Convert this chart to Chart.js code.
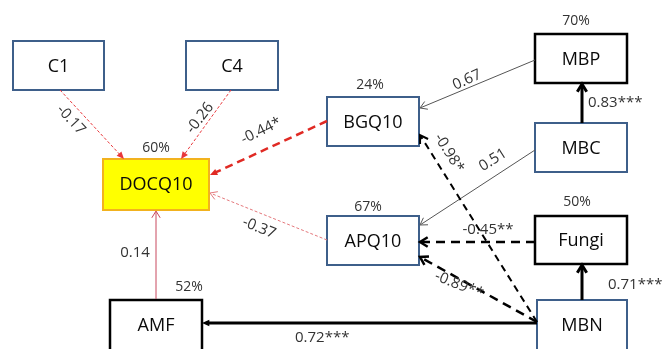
<!DOCTYPE html>
<html>
<head>
<meta charset="utf-8">
<script src="https://cdn.jsdelivr.net/npm/chart.js@4/dist/chart.umd.min.js"></script>
<style>
  html, body { margin: 0; padding: 0; background: #ffffff; }
  #wrap { width: 664px; height: 349px; position: relative; }
</style>
</head>
<body>
<div id="wrap"><canvas id="c"></canvas></div>
<script>
// Path model: variables, explained variance (R², %) and standardized path coefficients
const nodeNames   = ['C1', 'C4', 'DOCQ10', 'BGQ10', 'APQ10', 'AMF', 'MBP', 'MBC', 'Fungi', 'MBN'];
const explainedR2 = [null, null, 60, 24, 67, 52, 70, null, 50, null];

const pathFrom = ['C1', 'C4', 'BGQ10', 'APQ10', 'AMF', 'MBP', 'MBC', 'MBC', 'MBN', 'Fungi', 'MBN', 'MBN', 'MBN'];
const pathTo   = ['DOCQ10', 'DOCQ10', 'DOCQ10', 'DOCQ10', 'DOCQ10', 'BGQ10', 'MBP', 'APQ10', 'BGQ10', 'APQ10', 'APQ10', 'AMF', 'Fungi'];
const pathCoef = [-0.17, -0.26, -0.44, -0.37, 0.14, 0.67, 0.83, 0.51, -0.98, -0.45, -0.89, 0.72, 0.71];
const pathSig  = ['', '', '*', '', '', '', '***', '', '*', '**', '**', '***', '***'];

// ---- drawing layout (axis units: x 0..664, y 0..349 from top) ----
const boxLayout = {
  C1:     { x: 13,  y: 41,  w: 91,  h: 49, kind: 'blue' },
  C4:     { x: 186, y: 41,  w: 92,  h: 49, kind: 'blue' },
  DOCQ10: { x: 103, y: 159, w: 106, h: 51, kind: 'yellow' },
  BGQ10:  { x: 327, y: 97,  w: 92,  h: 49, kind: 'blue' },
  APQ10:  { x: 327, y: 216, w: 92,  h: 49, kind: 'blue' },
  AMF:    { x: 110, y: 300, w: 92,  h: 52, kind: 'black' },
  MBP:    { x: 535, y: 34,  w: 92,  h: 49, kind: 'black' },
  MBC:    { x: 535, y: 123, w: 92,  h: 49, kind: 'blue' },
  Fungi:  { x: 535, y: 216, w: 92,  h: 48, kind: 'black' },
  MBN:    { x: 537, y: 300, w: 90,  h: 52, kind: 'blue' }
};
// where each R² label sits
const r2Pos = {
  DOCQ10: [156, 148], BGQ10: [370, 85], APQ10: [368, 207], AMF: [189, 287],
  MBP: [576, 21], Fungi: [577, 202]
};
// per path: start, end, line style, head style, label position/rotation/alignment
const pathGeom = [
  { a: [60, 90],   b: [124, 159], st: 'redDot',    head: 'fill', lp: [71, 120],  rot: 47,  al: 'center' },
  { a: [231, 90],  b: [181, 159], st: 'redDot',    head: 'fill', lp: [200, 118], rot: -52, al: 'center' },
  { a: [327, 121], b: [210, 175], st: 'redDash',   head: 'fill', lp: [261, 131], rot: -26, al: 'center' },
  { a: [327, 240], b: [210, 193], st: 'pinkDot',   head: 'open', lp: [259, 228], rot: 22,  al: 'center' },
  { a: [156, 299], b: [156, 211], st: 'redSolid',  head: 'open', lp: [135, 253], rot: 0,   al: 'center' },
  { a: [535, 60],  b: [420, 108], st: 'greySolid', head: 'open', lp: [467, 80],  rot: -24, al: 'center' },
  { a: [582, 123], b: [582, 84],  st: 'blackBold', head: 'open', lp: [588, 103], rot: 0,   al: 'left' },
  { a: [535, 150], b: [420, 225], st: 'greySolid', head: 'open', lp: [493, 160], rot: -32, al: 'center' },
  { a: [537, 322], b: [420, 135], st: 'blackDash', head: 'open', lp: [449, 153], rot: 58,  al: 'center' },
  { a: [535, 242], b: [420, 242], st: 'blackDash2',head: 'open', lp: [488, 230], rot: 0,   al: 'center' },
  { a: [537, 322], b: [420, 257], st: 'blackDash2',head: 'open', lp: [459, 285], rot: 22,  al: 'center' },
  { a: [537, 323], b: [202, 323], st: 'blackBold', head: 'fill', lp: [295, 338], rot: 0,   al: 'left' },
  { a: [582, 300], b: [582, 265], st: 'blackBold', head: 'open', lp: [608, 285], rot: 0,   al: 'left' }
];
const lineStyles = {
  redDot:     { color: '#e8383c', width: 1,   dash: [3, 2] },
  pinkDot:    { color: '#e4787c', width: 1,   dash: [3, 2] },
  redDash:    { color: '#e02a24', width: 2.5, dash: [8, 5] },
  redSolid:   { color: '#c8485e', width: 1,   dash: [] },
  greySolid:  { color: '#555555', width: 1,   dash: [] },
  blackBold:  { color: '#000000', width: 3,   dash: [] },
  blackDash:  { color: '#000000', width: 2,   dash: [7, 5] },
  blackDash2: { color: '#000000', width: 2.5, dash: [9, 6] }
};
const boxStyles = {
  blue:   { stroke: '#3e5f8a', fill: '#ffffff', width: 2 },
  black:  { stroke: '#000000', fill: '#ffffff', width: 2.5 },
  yellow: { stroke: '#f2b21e', fill: '#ffff00', width: 2 }
};
const FONT = '"Open Sans", "DejaVu Sans", sans-serif';

function drawHead(ctx, x1, y1, x2, y2, kind, st) {
  const ang = Math.atan2(y2 - y1, x2 - x1);
  const len = kind === 'fill' ? 8 : (st.width >= 2 ? 9 : 8);
  const spread = kind === 'fill' ? 0.42 : 0.55;
  ctx.setLineDash([]);
  ctx.beginPath();
  ctx.moveTo(x2 - len * Math.cos(ang - spread), y2 - len * Math.sin(ang - spread));
  ctx.lineTo(x2, y2);
  ctx.lineTo(x2 - len * Math.cos(ang + spread), y2 - len * Math.sin(ang + spread));
  if (kind === 'fill') {
    ctx.closePath();
    ctx.fillStyle = st.color;
    ctx.fill();
  } else {
    ctx.lineWidth = Math.max(1, st.width);
    ctx.lineJoin = 'miter';
    ctx.stroke();
  }
}

const pathDiagram = {
  id: 'pathDiagram',
  afterDatasetsDraw(chart) {
    const ctx = chart.ctx;
    const sx = chart.scales.x, sy = chart.scales.y;
    const X = v => sx.getPixelForValue(v), Y = v => sy.getPixelForValue(v);
    ctx.save();

    // boxes
    nodeNames.forEach(name => {
      const b = boxLayout[name], s = boxStyles[b.kind];
      const x0 = X(b.x), y0 = Y(b.y), x1 = X(b.x + b.w), y1 = Y(b.y + b.h);
      ctx.fillStyle = s.fill;
      ctx.fillRect(x0, y0, x1 - x0, y1 - y0);
      ctx.lineWidth = s.width;
      ctx.strokeStyle = s.stroke;
      ctx.setLineDash([]);
      ctx.strokeRect(x0, y0, x1 - x0, y1 - y0);
      ctx.fillStyle = '#0a0a0a';
      ctx.font = '18px ' + FONT;
      ctx.textAlign = 'center';
      ctx.textBaseline = 'middle';
      ctx.fillText(name, (x0 + x1) / 2, (y0 + Math.min(y1, Y(b.y + 49))) / 2 + 1);
    });

    // paths
    pathFrom.forEach((from, i) => {
      const g = pathGeom[i], st = lineStyles[g.st];
      const ax = X(g.a[0]), ay = Y(g.a[1]), bx = X(g.b[0]), by = Y(g.b[1]);
      const ang = Math.atan2(by - ay, bx - ax);
      const back = g.head === 'fill' ? 6 : 1;
      ctx.strokeStyle = st.color;
      ctx.lineWidth = st.width;
      ctx.setLineDash(st.dash);
      ctx.lineCap = 'butt';
      ctx.beginPath();
      ctx.moveTo(ax, ay);
      ctx.lineTo(bx - back * Math.cos(ang), by - back * Math.sin(ang));
      ctx.stroke();
      drawHead(ctx, ax, ay, bx, by, g.head, st);

      // coefficient label
      const txt = pathCoef[i].toFixed(2) + pathSig[i];
      ctx.save();
      ctx.translate(X(g.lp[0]), Y(g.lp[1]));
      ctx.rotate(g.rot * Math.PI / 180);
      ctx.font = '15px ' + FONT;
      ctx.fillStyle = '#333333';
      ctx.textAlign = g.al;
      ctx.textBaseline = 'middle';
      ctx.fillText(txt, 0, 0);
      ctx.restore();
    });

    // explained variance
    ctx.font = '14px ' + FONT;
    ctx.fillStyle = '#333333';
    ctx.textAlign = 'center';
    ctx.textBaseline = 'middle';
    nodeNames.forEach((name, i) => {
      if (explainedR2[i] == null) return;
      const p = r2Pos[name];
      ctx.fillText(explainedR2[i] + '%', X(p[0]), Y(p[1]));
    });
    ctx.restore();
  }
};

new Chart(document.getElementById('c'), {
  type: 'scatter',
  data: {
    datasets: [{
      data: nodeNames.map(n => ({ x: boxLayout[n].x + boxLayout[n].w / 2, y: boxLayout[n].y + boxLayout[n].h / 2 })),
      pointRadius: 0,
      pointHoverRadius: 0
    }]
  },
  options: {
    responsive: true,
    maintainAspectRatio: false,
    animation: false,
    layout: { padding: 0 },
    plugins: { legend: { display: false }, tooltip: { enabled: false } },
    scales: {
      x: { type: 'linear', min: 0, max: 664, display: false },
      y: { type: 'linear', min: 0, max: 349, reverse: true, display: false }
    }
  },
  plugins: [pathDiagram]
});
</script>
</body>
</html>
